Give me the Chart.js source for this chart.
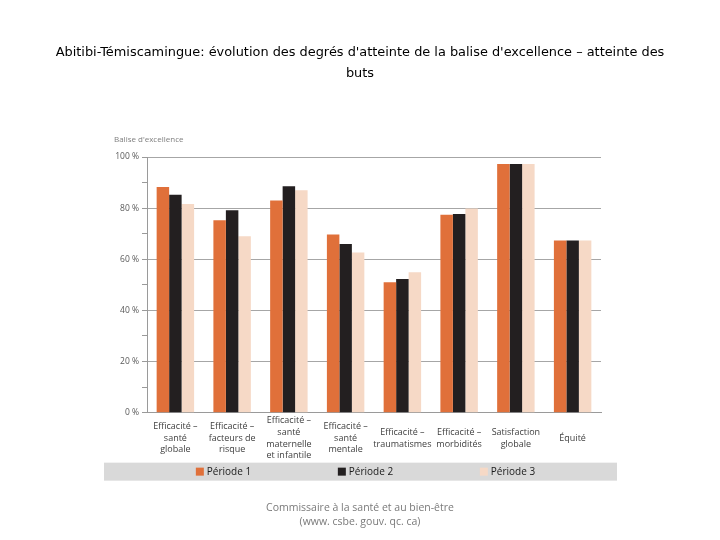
<!DOCTYPE html>
<html>
<head>
<meta charset="utf-8">
<script src="https://cdn.jsdelivr.net/npm/chart.js@4"></script>
<style>
html,body{margin:0;padding:0;background:#fff;}
#wrap{position:relative;width:720px;height:540px;}
</style>
</head>
<body>
<div id="wrap"><canvas id="c" width="720" height="540"></canvas></div>
<script>
const titleLines = ["Abitibi-Témiscamingue: évolution des degrés d'atteinte de la balise d'excellence – atteinte des", "buts"];
const footerLines = ["Commissaire à la santé et au bien-être", "(www. csbe. gouv. qc. ca)"];
const yAxisLabel = "Balise d'excellence";
const categories = [
  ["Efficacité –", "santé", "globale"],
  ["Efficacité –", "facteurs de", "risque"],
  ["Efficacité –", "santé", "maternelle", "et infantile"],
  ["Efficacité –", "santé", "mentale"],
  ["Efficacité –", "traumatismes"],
  ["Efficacité –", "morbidités"],
  ["Satisfaction", "globale"],
  ["Équité"]
];
const seriesNames = ["Période 1", "Période 2", "Période 3"];
const periode1 = [88.3, 75.3, 83.0, 69.7, 51.0, 77.4, 97.3, 67.4];
const periode2 = [85.3, 79.2, 88.6, 66.0, 52.3, 77.7, 97.3, 67.4];
const periode3 = [81.6, 69.0, 87.0, 62.7, 54.9, 79.9, 97.3, 67.4];
const yMin = 0, yMax = 100, yMinorStep = 10, yLabelStep = 20;

const colors = ["#E0703A", "#231F20", "#F6D9C6"];
const FONT = "'Open Sans', sans-serif";

const bandLegend = {
  id: 'bandLegend',
  afterDraw(chart) {
    const ctx = chart.ctx;
    const ca = chart.chartArea;
    const xs = chart.scales.x;
    const top = xs.bottom + 2;
    const h = 18;
    const bandL = ca.left - 43, bandR = ca.right + 16;
    ctx.save();
    ctx.fillStyle = '#D9D9D9';
    ctx.fillRect(bandL, top, bandR - bandL, h);
    ctx.font = "10px " + FONT;
    ctx.textBaseline = 'middle';
    ctx.textAlign = 'left';
    const spacing = 142, box = 8, gap = 3;
    const ds = chart.data.datasets;
    const lastW = box + gap + ctx.measureText(ds[ds.length - 1].label).width;
    const total = spacing * (ds.length - 1) + lastW;
    const cx = (bandL + bandR) / 2;
    let x = cx - total / 2 + 5;
    const cy = top + h / 2;
    ds.forEach((d) => {
      ctx.fillStyle = d.backgroundColor;
      ctx.fillRect(x, cy - box / 2, box, box);
      ctx.fillStyle = '#1a1a1a';
      ctx.fillText(d.label, x + box + gap, cy + 0.5);
      x += spacing;
    });
    ctx.font = "8px " + FONT;
    ctx.fillStyle = '#7f7f7f';
    ctx.fillText(yAxisLabel, ca.left - 33, ca.top - 17);
    ctx.restore();
  }
};

new Chart(document.getElementById('c'), {
  type: 'bar',
  data: {
    labels: categories,
    datasets: [
      { label: seriesNames[0], data: periode1, backgroundColor: colors[0] },
      { label: seriesNames[1], data: periode2, backgroundColor: colors[1] },
      { label: seriesNames[2], data: periode3, backgroundColor: colors[2] }
    ]
  },
  plugins: [bandLegend],
  options: {
    responsive: false,
    animation: false,
    devicePixelRatio: 1,
    layout: { padding: { left: 0, right: 0, top: 0, bottom: 0 } },
    datasets: { bar: { categoryPercentage: 0.66, barPercentage: 1.0, borderWidth: 0 } },
    plugins: {
      legend: { display: false },
      tooltip: { enabled: false },
      title: {
        display: true,
        text: titleLines,
        color: '#000',
        font: { family: "'DejaVu Sans', sans-serif", size: 12.9, weight: 'normal', lineHeight: 1.63 },
        padding: { top: 42, bottom: 73 }
      },
      subtitle: {
        display: true,
        position: 'bottom',
        text: footerLines,
        color: '#7a7a7a',
        font: { family: FONT, size: 10.5, weight: 'normal', lineHeight: 1.35 },
        padding: { top: 40, bottom: 11 }
      }
    },
    scales: {
      x: {
        afterFit(scale) { scale.height = 48; },
        grid: { display: false, drawTicks: false },
        border: { display: true, color: '#9a9a9a', width: 1 },
        ticks: {
          color: '#404040',
          font: { family: FONT, size: 9, lineHeight: 1.3 },
          padding: 8,
          maxRotation: 0,
          autoSkip: false,
          crossAlign: 'center'
        }
      },
      y: {
        min: yMin,
        max: yMax,
        afterFit(scale) { scale.width = 147; },
        border: { display: true, color: '#9a9a9a', width: 1 },
        grid: {
          color: (c) => (c.tick && c.tick.value % yLabelStep === 0) ? '#a6a6a6' : 'rgba(0,0,0,0)',
          tickColor: '#9a9a9a',
          tickLength: 5,
          drawTicks: true
        },
        ticks: {
          stepSize: yMinorStep,
          autoSkip: false,
          color: '#595959',
          padding: 3,
          font: { family: FONT, size: 8.5 },
          callback: (v) => (v % yLabelStep === 0) ? v + ' %' : ''
        }
      },
      yPad: {
        position: 'right',
        display: true,
        afterFit(scale) { scale.width = 119; },
        grid: { display: false, drawTicks: false },
        border: { display: false },
        ticks: { display: false }
      }
    }
  }
});
</script>
</body>
</html>
